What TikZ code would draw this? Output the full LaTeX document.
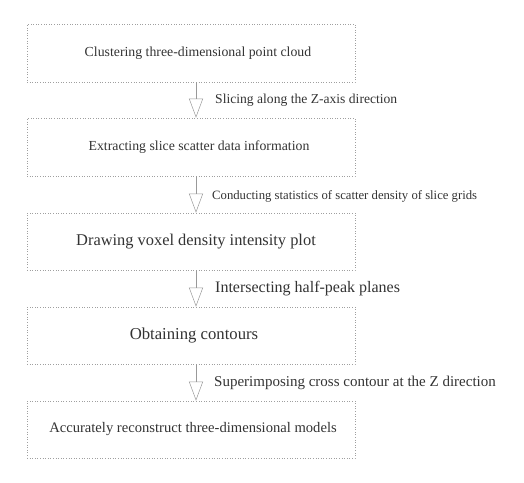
\documentclass[tikz,border=0pt]{standalone}
\usepackage{fontspec}
\setmainfont{Liberation Serif}
\usetikzlibrary{arrows.meta}
\begin{document}
\begin{tikzpicture}[x=1pt, y=-1pt,
	stage/.style={draw=gray!75, dotted, line width=0.6pt, minimum width=328pt, minimum height=57pt, inner sep=0pt, text=black!80},
	note/.style={anchor=west, inner sep=0pt, text=black!80},
	>={Triangle[open, width=14pt, length=19pt]}
	]
	
	\useasboundingbox (0,0) rectangle (524,482);
	
	%-----------------------
	% Customizable heights
	%-----------------------
	\def\hcluster{53}     % Box 1
	\def\hextract{147}    % Box 2
	\def\hvoxel{241.5}    % Box 3
	\def\hcontour{335.5}  % Box 4
	\def\hmodel{429.5}    % Box 5
	
	%-----------------------
	% Process boxes
	%-----------------------
	\node[stage, minimum height=58pt] (cluster) at (191,\hcluster) {\hspace*{14pt}\fontsize{13.8}{15}\selectfont Clustering three-dimensional point cloud};
	\node[stage, minimum height=58pt] (extract) at (191,\hextract) {\hspace*{16pt}\fontsize{13.8}{15}\selectfont Extracting slice scatter data information};
	\node[stage] (voxel) at (191,\hvoxel) {\hspace*{10pt}\fontsize{16.4}{18}\selectfont Drawing voxel density intensity plot};
	\node[stage] (contour) at (191,\hcontour) {\hspace*{6pt}\fontsize{16.7}{18}\selectfont Obtaining contours};
	\node[stage] (model) at (191,\hmodel) {\hspace*{4pt}\fontsize{14.6}{16}\selectfont Accurately reconstruct three-dimensional models};
	
	%-----------------------
	% Step notes
	%-----------------------
	\node[note] (slice) at (215,100) {\fontsize{13.6}{15}\selectfont Slicing along the Z-axis direction};
	\node[note] (stats) at (212,196) {\fontsize{12.7}{14}\selectfont Conducting statistics of scatter density of slice grids};
	\node[note] (peak) at (215,289) {\fontsize{16}{18}\selectfont Intersecting half-peak planes};
	\node[note] (stack) at (214,383) {\fontsize{15}{17}\selectfont Superimposing cross contour at the Z direction};
	
	%-----------------------
	% Connections
	%-----------------------
	\tikzset{connect/.style={->, draw=gray!80, line width=0.5pt}}
	
	\draw[connect] ([xshift=5pt]cluster.south) -- ([xshift=5pt]extract.north);
	\draw[connect] ([xshift=5pt]extract.south) -- ([xshift=5pt]voxel.north);
	\draw[connect] ([xshift=5pt]voxel.south) -- ([xshift=5pt]contour.north);
	\draw[connect] ([xshift=5pt]contour.south) -- ([xshift=5pt]model.north);
	
\end{tikzpicture}
\end{document}
